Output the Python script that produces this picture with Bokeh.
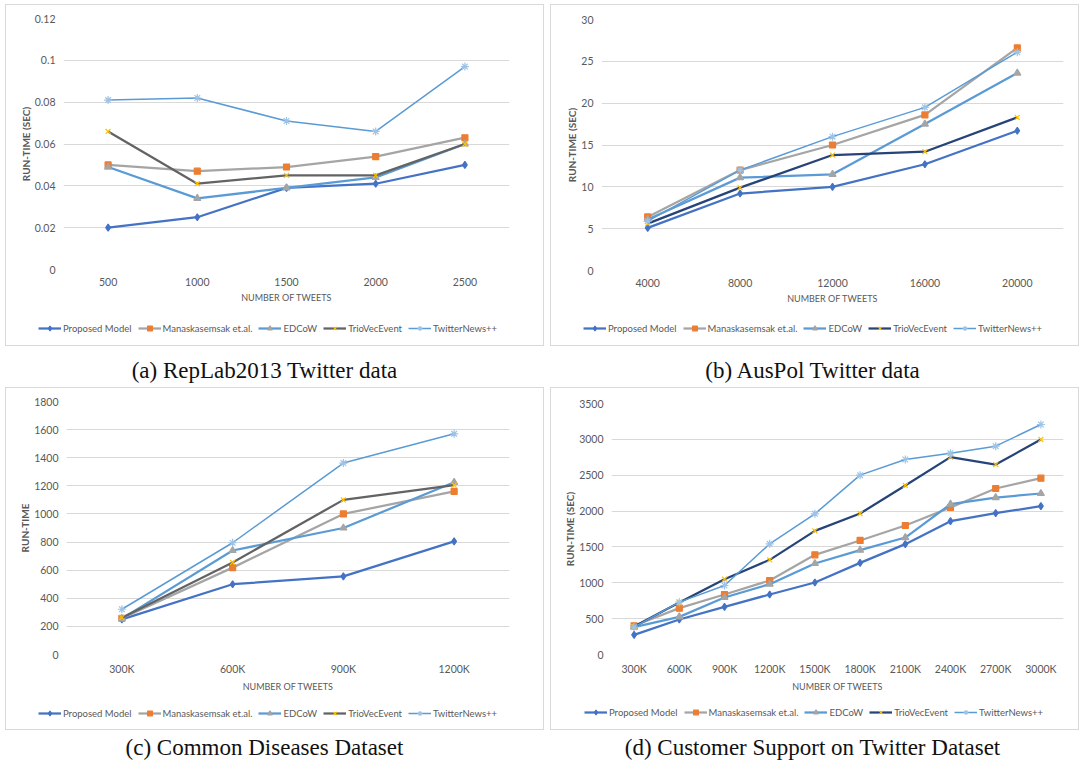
from bokeh.plotting import figure
from bokeh.models import FactorRange, Range1d, FixedTicker, Legend, LegendItem, Div
from bokeh.layouts import row, column
from bokeh.embed import file_html
from bokeh.resources import INLINE

SERIES = ["Proposed Model", "Manaskasemsak et.al.", "EDCoW", "TrioVecEvent", "TwitterNews++"]

# ---------- (a) RepLab2013 Twitter data ----------
a_x = ["500", "1000", "1500", "2000", "2500"]
a_proposed = [0.020, 0.025, 0.039, 0.041, 0.050]
a_manas = [0.050, 0.047, 0.049, 0.054, 0.063]
a_edcow = [0.049, 0.034, 0.039, 0.044, 0.060]
a_trio = [0.066, 0.041, 0.045, 0.045, 0.060]
a_tn = [0.081, 0.082, 0.071, 0.066, 0.097]
a_yticks = [0, 0.02, 0.04, 0.06, 0.08, 0.1, 0.12]
a_ylabels = ["0", "0.02", "0.04", "0.06", "0.08", "0.1", "0.12"]

# ---------- (b) AusPol Twitter data ----------
b_x = ["4000", "8000", "12000", "16000", "20000"]
b_proposed = [5.1, 9.2, 10.0, 12.7, 16.7]
b_manas = [6.4, 12.0, 15.0, 18.6, 26.6]
b_edcow = [6.1, 11.1, 11.5, 17.5, 23.6]
b_trio = [5.6, 9.9, 13.8, 14.2, 18.3]
b_tn = [5.9, 12.0, 16.0, 19.5, 26.1]
b_yticks = [0, 5, 10, 15, 20, 25, 30]
b_ylabels = ["0", "5", "10", "15", "20", "25", "30"]

# ---------- (c) Common Diseases Dataset ----------
c_x = ["300K", "600K", "900K", "1200K"]
c_proposed = [250, 500, 556, 805]
c_manas = [258, 618, 1000, 1160]
c_edcow = [255, 740, 900, 1225]
c_trio = [262, 655, 1100, 1205]
c_tn = [322, 795, 1362, 1570]
c_yticks = [0, 200, 400, 600, 800, 1000, 1200, 1400, 1600, 1800]
c_ylabels = ["0", "200", "400", "600", "800", "1000", "1200", "1400", "1600", "1800"]

# ---------- (d) Customer Support on Twitter Dataset ----------
d_x = ["300K", "600K", "900K", "1200K", "1500K", "1800K", "2100K", "2400K", "2700K", "3000K"]
d_proposed = [274, 488, 665, 837, 1004, 1278, 1539, 1859, 1971, 2068]
d_manas = [400, 646, 837, 1032, 1390, 1590, 1799, 2050, 2315, 2459]
d_edcow = [381, 525, 795, 981, 1269, 1455, 1631, 2096, 2189, 2245]
d_trio = [390, 725, 1050, 1320, 1724, 1966, 2357, 2752, 2649, 2998]
d_tn = [381, 730, 962, 1543, 1961, 2501, 2719, 2807, 2905, 3207]
d_yticks = [0, 500, 1000, 1500, 2000, 2500, 3000, 3500]
d_ylabels = ["0", "500", "1000", "1500", "2000", "2500", "3000", "3500"]

CAPTIONS = ["(a) RepLab2013 Twitter data", "(b) AusPol Twitter data",
            "(c) Common Diseases Dataset", "(d) Customer Support on Twitter Dataset"]

FONT = "Lato"
TXT = "#595959"


def styles_for(trio_line):
    # line colour, line width, marker, marker size, marker colour
    return [
        ("#4472C4", 2.25, "diamond", 7, "#4472C4"),
        ("#A5A5A5", 2.25, "square", 6, "#ED7D31"),
        ("#5B9BD5", 2.25, "triangle", 7, "#A5A5A5"),
        (trio_line, 2.25, "x", 7, "#FFC000"),
        ("#5B9BD5", 1.5, "asterisk", 8, "#9DC3E6"),
    ]


def draw_series(p, xf, series, trio_line, visible=True):
    rs = []
    for vals, st in zip(series, styles_for(trio_line)):
        lc, lw, mk, ms, mc = st
        r1 = p.line(xf, vals, line_color=lc, line_width=lw, line_join="round", visible=visible)
        r2 = p.scatter(xf, vals, marker=mk, size=ms, fill_color=mc, line_color=mc,
                       line_width=1.2, visible=visible)
        rs.append([r1, r2])
    return rs


def panel(xf, series, yticks, ylabels, ylabel, trio_line, w, h1, h2, bl, bt, br, bb, leg_loc):
    # ---- chart part ----
    p = figure(x_range=FactorRange(factors=xf), y_range=Range1d(yticks[0], yticks[-1]),
               width=w, height=h1, output_backend="svg", toolbar_location=None,
               min_border_left=bl, min_border_top=bt, min_border_right=br, min_border_bottom=bb)
    p.frame_align = False
    p.outline_line_color = None
    p.background_fill_color = "white"
    p.border_fill_color = "white"
    p.xgrid.grid_line_color = None
    p.ygrid.grid_line_color = "#d9d9d9"
    p.ygrid.grid_line_width = 1
    p.yaxis.ticker = FixedTicker(ticks=yticks)
    p.yaxis.major_label_overrides = {t: l for t, l in zip(yticks, ylabels)}
    for ax in (p.xaxis[0], p.yaxis[0]):
        ax.axis_line_color = None
        ax.major_tick_line_color = None
        ax.minor_tick_line_color = None
        ax.major_tick_out = 0
        ax.major_tick_in = 0
        ax.major_label_text_font = FONT
        ax.major_label_text_color = TXT
        ax.major_label_text_font_size = "10.5px"
        ax.axis_label_text_font = FONT
        ax.axis_label_text_color = TXT
    p.xaxis.axis_label = "NUMBER OF TWEETS"
    p.xaxis.axis_label_text_font_size = "9px"
    p.xaxis.axis_label_text_font_style = "normal"
    p.xaxis.major_label_standoff = 8
    p.xaxis.axis_label_standoff = 3
    p.yaxis.axis_label = ylabel
    p.yaxis.axis_label_text_font_size = "10px"
    p.yaxis.axis_label_text_font_style = "bold"
    p.yaxis.major_label_standoff = 8
    p.yaxis.axis_label_standoff = 0
    draw_series(p, xf, series, trio_line)

    # ---- legend strip (same series, glyphs shown only in the legend) ----
    q = figure(x_range=FactorRange(factors=xf), y_range=Range1d(-2, -1),
               width=w, height=h2, output_backend="svg", toolbar_location=None,
               x_axis_type=None, y_axis_type=None,
               min_border_left=0, min_border_top=0, min_border_right=0, min_border_bottom=0)
    q.frame_align = False
    q.outline_line_color = None
    q.background_fill_color = "white"
    q.border_fill_color = "white"
    rs = draw_series(q, xf, series, trio_line, visible=False)
    items = [LegendItem(label=name, renderers=r) for name, r in zip(SERIES, rs)]
    legend = Legend(items=items, orientation="horizontal", location=leg_loc,
                    border_line_color=None, background_fill_alpha=0,
                    padding=0, margin=0, spacing=6, label_standoff=2,
                    glyph_width=23, glyph_height=12, label_height=12,
                    label_text_font=FONT, label_text_font_size="9.5px",
                    label_text_color=TXT, click_policy="none")
    q.add_layout(legend, "center")
    return column(p, q, spacing=0, styles={"outline": "1px solid #d9d9d9"})


pa = panel(a_x, [a_proposed, a_manas, a_edcow, a_trio, a_tn], a_yticks, a_ylabels,
           "RUN-TIME (SEC)", "#636363", 537, 306, 34, 57, 13, 34, 42, (32, 11))
pb = panel(b_x, [b_proposed, b_manas, b_edcow, b_trio, b_tn], b_yticks, b_ylabels,
           "RUN-TIME (SEC)", "#264478", 527, 306, 34, 50, 14, 15, 41, (32, 11))
pc = panel(c_x, [c_proposed, c_manas, c_edcow, c_trio, c_tn], c_yticks, c_ylabels,
           "RUN-TIME", "#636363", 537, 307, 34, 60, 13, 34, 41, (32, 10))
pd_ = panel(d_x, [d_proposed, d_manas, d_edcow, d_trio, d_tn], d_yticks, d_ylabels,
            "RUN-TIME (SEC)", "#264478", 527, 307, 34, 60, 15, 15, 41, (33, 11))


def caption(text, w, h, pad_top, pad_right):
    html = ('<div style="box-sizing:border-box;width:%dpx;font-family:\'Liberation Serif\',serif;'
            'font-size:23px;line-height:26px;color:#111;text-align:center;white-space:nowrap;'
            'padding-top:%dpx;padding-right:%dpx">%s</div>'
            % (w, pad_top, pad_right, text))
    return Div(text=html, width=w, height=h, margin=0)


ca = caption(CAPTIONS[0], 537, 43, 13, 20)
cb = caption(CAPTIONS[1], 527, 43, 13, 4)
cc = caption(CAPTIONS[2], 537, 36, 6, 20)
cd = caption(CAPTIONS[3], 527, 36, 6, 4)

layout = column(row(pa, pb, spacing=8), row(ca, cb, spacing=8),
                row(pc, pd_, spacing=8), row(cc, cd, spacing=8), spacing=0,
                margin=(5, 0, 0, 6))

open("out.html", "w").write(file_html(layout, INLINE))
